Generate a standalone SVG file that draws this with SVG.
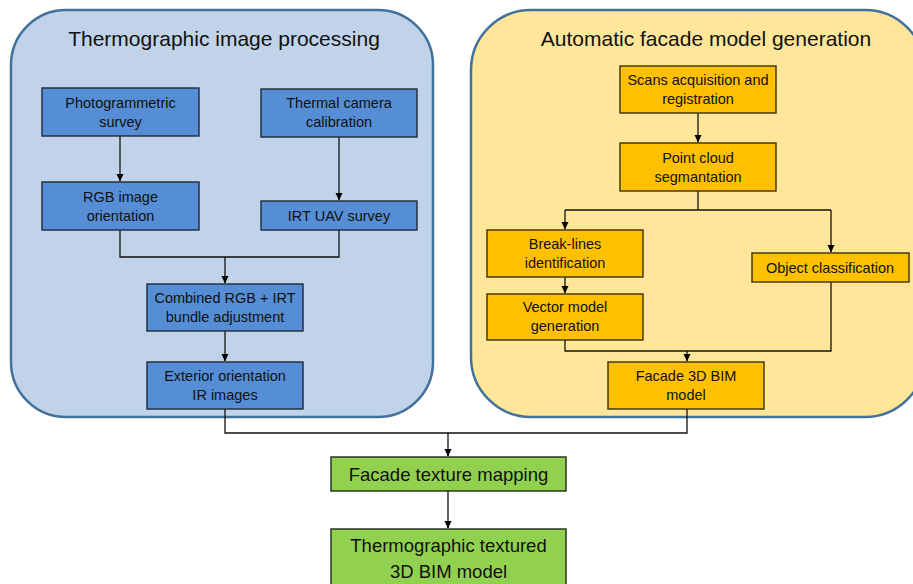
<svg xmlns="http://www.w3.org/2000/svg" width="913" height="584" viewBox="0 0 913 584">
<defs>
<marker id="ah" markerWidth="8" markerHeight="8" refX="7" refY="4" orient="auto" markerUnits="userSpaceOnUse">
<path d="M0,0.5 L7.5,4 L0,7.5 Z" fill="#000"/>
</marker>
<style>
.panel{stroke:#41719C;stroke-width:2.5}
.blue{fill:#558ED5;stroke:#1c2a3a;stroke-width:1.4}
.org{fill:#FFC000;stroke:#3a2f10;stroke-width:1.4}
.grn{fill:#92D050;stroke:#1f2a10;stroke-width:1.4}
text{font-family:"Liberation Sans",Arial,sans-serif;fill:#111;text-anchor:middle}
.t{font-size:21px}
.b{font-size:14.5px}
.g{font-size:18.5px}
.c{fill:none;stroke:#111;stroke-width:1.3}
</style>
</defs>
<g id="panel-left">
<rect class="panel" x="11" y="10" width="422" height="407" rx="55" ry="55" fill="#C0D3E9"/>
<text class="t" x="224" y="46">Thermographic image processing</text>
</g>
<g id="panel-right">
<rect class="panel" x="471" y="10" width="454" height="407" rx="60" ry="60" fill="#FFE699"/>
<text class="t" x="706" y="46">Automatic facade model generation</text>
</g>
<g id="connectors">
<path class="c" d="M120,136 V181" marker-end="url(#ah)"/>
<path class="c" d="M339,137 V200" marker-end="url(#ah)"/>
<path class="c" d="M120,230 V257 H339 V230"/>
<path class="c" d="M225,257 V283" marker-end="url(#ah)"/>
<path class="c" d="M225,331 V361" marker-end="url(#ah)"/>
<path class="c" d="M698,113 V142" marker-end="url(#ah)"/>
<path class="c" d="M698,191 V210"/>
<path class="c" d="M565,210 H831"/>
<path class="c" d="M565,210 V229" marker-end="url(#ah)"/>
<path class="c" d="M831,210 V252" marker-end="url(#ah)"/>
<path class="c" d="M565,277 V293" marker-end="url(#ah)"/>
<path class="c" d="M565,340 V351 H831 V282"/>
<path class="c" d="M687,351 V361" marker-end="url(#ah)"/>
<path class="c" d="M225,409 V433 H687 V409"/>
<path class="c" d="M448,433 V456" marker-end="url(#ah)"/>
<path class="c" d="M448,491 V528" marker-end="url(#ah)"/>
</g>
<g id="n-photo"><rect class="blue" x="42" y="88" width="157" height="48"/><text class="b" x="120.5" y="108">Photogrammetric</text><text class="b" x="120.5" y="127">survey</text></g>
<g id="n-thermal"><rect class="blue" x="261" y="89" width="156" height="48"/><text class="b" x="339" y="108">Thermal camera</text><text class="b" x="339" y="127">calibration</text></g>
<g id="n-rgb"><rect class="blue" x="42" y="182" width="157" height="48"/><text class="b" x="120.5" y="202">RGB image</text><text class="b" x="120.5" y="221">orientation</text></g>
<g id="n-irt"><rect class="blue" x="261" y="201" width="156" height="29"/><text class="b" x="339" y="221">IRT UAV survey</text></g>
<g id="n-combined"><rect class="blue" x="147" y="284" width="156" height="47"/><text class="b" x="225" y="303">Combined RGB + IRT</text><text class="b" x="225" y="322">bundle adjustment</text></g>
<g id="n-exterior"><rect class="blue" x="147" y="362" width="156" height="47"/><text class="b" x="225" y="381">Exterior orientation</text><text class="b" x="225" y="400">IR images</text></g>
<g id="n-scans"><rect class="org" x="620" y="66" width="156" height="47"/><text class="b" x="698" y="85">Scans acquisition and</text><text class="b" x="698" y="104">registration</text></g>
<g id="n-seg"><rect class="org" x="620" y="143" width="156" height="48"/><text class="b" x="698" y="163">Point cloud</text><text class="b" x="698" y="182">segmantation</text></g>
<g id="n-break"><rect class="org" x="487" y="230" width="156" height="47"/><text class="b" x="565" y="249">Break-lines</text><text class="b" x="565" y="268">identification</text></g>
<g id="n-vector"><rect class="org" x="487" y="294" width="156" height="46"/><text class="b" x="565" y="312">Vector model</text><text class="b" x="565" y="331">generation</text></g>
<g id="n-object"><rect class="org" x="752" y="253" width="157" height="29"/><text class="b" x="830" y="273">Object classification</text></g>
<g id="n-facade3d"><rect class="org" x="608" y="362" width="156" height="47"/><text class="b" x="686" y="381">Facade 3D BIM</text><text class="b" x="686" y="400">model</text></g>
<g id="n-texture"><rect class="grn" x="331" y="457" width="235" height="34"/><text class="g" x="448.5" y="481">Facade texture mapping</text></g>
<g id="n-final"><rect class="grn" x="331" y="529" width="235" height="60"/><text class="g" x="448.5" y="552">Thermographic textured</text><text class="g" x="448.5" y="578">3D BIM model</text></g>
</svg>
